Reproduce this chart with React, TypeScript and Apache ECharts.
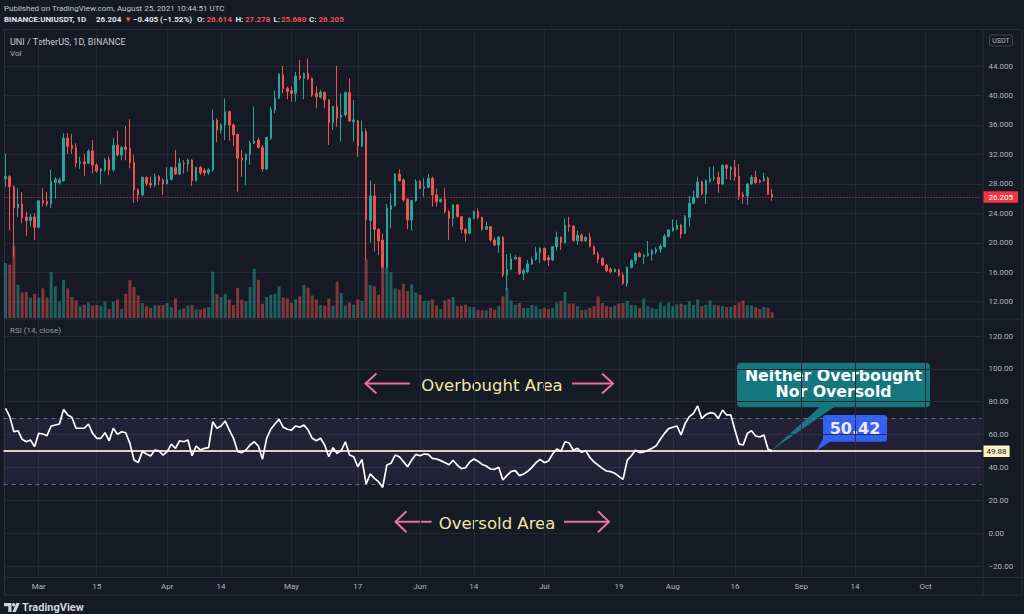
import React, { useEffect, useRef } from "react";
import * as echarts from "echarts";

// ---------- categories (one per day) ----------
const firstDayUTC = Date.UTC(2021, 1, 21);
const dayCount = 236;
const categories: string[] = Array.from({ length: dayCount }, (_, i) =>
  new Date(firstDayUTC + i * 86400000).toISOString().slice(0, 10)
);

// ---------- time axis ticks ----------
const xTickDates = [
  "2021-03-01", "2021-03-15", "2021-04-01", "2021-04-14", "2021-05-01",
  "2021-05-17", "2021-06-01", "2021-06-14", "2021-07-01", "2021-07-19",
  "2021-08-01", "2021-08-16", "2021-09-01", "2021-09-14", "2021-10-01",
];
const xTickLabels = ["Mar", "15", "Apr", "14", "May", "17", "Jun", "14", "Jul", "19", "Aug", "16", "Sep", "14", "Oct"];

// ---------- price candles: [open, high, low, close] ----------
const candles: number[][] = [
  [28.7, 32.1, 27.6, 29.0], [29.0, 29.2, 21.7, 27.6], [27.6, 27.8, 18.1, 24.76], [24.76, 27.4, 23.5, 25.26],
  [25.26, 26.9, 22.64, 23.36], [23.5, 24.2, 20.9, 23.0], [23.0, 23.9, 22.2, 23.5], [23.5, 24.0, 20.4, 22.1],
  [22.1, 25.8, 21.96, 25.7], [25.7, 27.4, 24.9, 25.45], [25.6, 26.9, 24.9, 25.26], [25.26, 29.9, 24.7, 28.3],
  [28.2, 28.9, 26.0, 28.6], [28.16, 28.8, 27.9, 28.52], [28.4, 34.85, 28.3, 34.2], [34.2, 34.9, 32.05, 33.1],
  [33.2, 34.8, 32.05, 32.8], [32.9, 33.5, 30.24, 30.8], [30.8, 31.7, 30.0, 31.0], [31.0, 32.1, 29.1, 30.7],
  [30.8, 32.7, 30.7, 32.46], [32.5, 33.95, 29.4, 30.56], [30.56, 30.8, 29.5, 29.74], [29.74, 30.1, 28.0, 30.0],
  [29.9, 31.5, 29.65, 31.2], [31.3, 31.7, 29.2, 29.9], [29.9, 34.2, 29.65, 33.27], [33.27, 35.2, 31.7, 31.9],
  [31.9, 33.1, 31.2, 32.95], [33.0, 35.85, 31.2, 32.68], [32.8, 36.75, 30.1, 30.87], [30.9, 31.9, 25.4, 27.16],
  [27.2, 27.4, 25.6, 26.48], [26.5, 29.0, 26.35, 28.88], [28.88, 29.0, 27.7, 28.07], [28.07, 29.0, 27.4, 27.84],
  [27.84, 29.4, 27.6, 28.97], [28.97, 29.2, 27.84, 28.43], [28.5, 28.75, 26.5, 27.98], [27.98, 30.24, 27.98, 28.6],
  [28.6, 30.3, 28.43, 30.24], [30.2, 32.6, 29.2, 29.33], [29.33, 31.46, 29.2, 30.78], [30.78, 31.2, 29.4, 30.7],
  [30.7, 31.46, 29.65, 31.24], [31.24, 31.3, 27.7, 28.43], [28.43, 30.3, 28.3, 30.24], [30.24, 30.4, 29.2, 29.5],
  [29.8, 30.1, 29.1, 29.5], [29.5, 30.1, 29.2, 29.9], [29.9, 38.1, 29.65, 36.66], [36.66, 36.9, 33.7, 35.3],
  [35.3, 36.2, 34.8, 35.99], [36.0, 39.6, 33.95, 37.8], [37.8, 37.93, 33.86, 35.99], [36.0, 36.2, 33.1, 34.63],
  [34.7, 34.85, 26.94, 31.46], [31.5, 32.6, 28.97, 31.24], [31.24, 32.14, 27.84, 32.0], [32.0, 33.8, 30.6, 33.5],
  [33.5, 38.48, 33.4, 33.81], [33.95, 34.3, 32.8, 32.95], [32.95, 33.27, 29.65, 30.01], [30.01, 34.4, 29.88, 34.31],
  [34.18, 38.48, 33.95, 38.11], [38.02, 40.65, 37.57, 39.61], [39.61, 43.0, 39.47, 42.9], [42.8, 44.0, 40.29, 40.96],
  [40.96, 41.2, 39.47, 40.51], [40.65, 41.2, 39.15, 40.29], [40.29, 43.2, 39.15, 42.64], [42.64, 44.81, 42.1, 42.32],
  [42.32, 43.1, 39.47, 43.0], [43.0, 45.0, 42.1, 42.32], [42.32, 42.4, 39.83, 40.06], [40.29, 41.2, 38.25, 39.83],
  [39.74, 40.74, 39.61, 40.42], [40.42, 40.51, 38.25, 39.38], [39.38, 39.47, 33.27, 36.3], [36.3, 38.56, 35.31, 38.48],
  [38.48, 44.0, 35.76, 36.89], [37.03, 40.29, 33.72, 37.34], [37.34, 40.51, 37.12, 40.38], [40.38, 42.32, 36.44, 36.53],
  [36.44, 39.38, 33.72, 36.66], [36.53, 36.66, 31.69, 33.14], [33.14, 36.57, 32.95, 35.08], [35.08, 35.53, 17.66, 23.09],
  [23.0, 28.43, 20.01, 26.35], [26.35, 27.98, 18.79, 21.82], [21.82, 21.96, 18.34, 20.28], [20.37, 21.28, 16.53, 16.66],
  [16.66, 25.26, 16.53, 24.67], [24.54, 26.71, 21.96, 25.04], [25.04, 29.42, 24.9, 29.33], [29.33, 29.97, 28.29, 28.43],
  [28.52, 28.75, 25.58, 25.81], [25.9, 26.03, 21.82, 23.09], [23.09, 25.81, 21.64, 25.71], [25.71, 28.61, 25.58, 28.29],
  [28.29, 28.52, 27.25, 27.39], [27.39, 28.75, 26.26, 27.61], [27.52, 29.33, 27.39, 28.75], [28.75, 28.97, 24.9, 26.48],
  [26.48, 27.39, 24.9, 25.58], [25.58, 26.03, 25.44, 25.9], [25.9, 27.39, 23.99, 24.22], [24.22, 24.45, 20.37, 23.32],
  [23.32, 25.26, 22.19, 25.13], [25.13, 25.26, 23.45, 23.54], [23.54, 23.63, 21.28, 21.82], [21.82, 21.96, 20.15, 21.28],
  [21.28, 23.45, 21.14, 23.32], [23.32, 24.36, 23.18, 24.22], [24.22, 24.67, 23.18, 23.45], [23.45, 23.54, 21.64, 21.82],
  [21.82, 22.86, 21.73, 22.19], [22.19, 22.27, 20.15, 20.37], [20.37, 20.74, 19.56, 19.7], [19.7, 20.92, 18.65, 20.74],
  [20.74, 20.9, 15.3, 15.62], [15.62, 18.47, 13.59, 16.39], [16.39, 18.56, 16.3, 17.8], [17.8, 18.34, 17.66, 18.02],
  [18.02, 18.11, 15.62, 15.85], [15.85, 16.53, 14.95, 16.21], [16.08, 17.66, 15.85, 17.12], [17.12, 18.11, 16.98, 17.75],
  [17.75, 19.47, 17.57, 18.65], [18.65, 19.38, 17.21, 19.24], [19.24, 19.38, 17.52, 17.66], [18.0, 18.34, 16.85, 17.66],
  [17.66, 19.56, 17.5, 19.47], [19.47, 21.51, 18.93, 20.74], [20.74, 20.83, 19.02, 20.01], [20.01, 23.32, 19.92, 22.41],
  [22.41, 23.54, 21.51, 22.19], [22.27, 22.36, 20.15, 20.28], [20.28, 21.64, 19.7, 21.01], [21.01, 21.28, 20.15, 20.28],
  [20.28, 20.83, 20.15, 20.74], [20.74, 21.37, 19.38, 19.47], [19.47, 19.65, 18.34, 18.47], [18.47, 18.79, 17.21, 17.75],
  [17.88, 18.02, 16.85, 16.98], [16.98, 17.12, 16.08, 16.21], [16.39, 16.66, 15.85, 16.08], [16.08, 16.53, 16.0, 16.39],
  [16.3, 16.44, 15.4, 15.62], [15.62, 15.94, 14.27, 14.49], [14.49, 16.75, 14.04, 16.66], [16.66, 17.75, 16.53, 17.57],
  [17.57, 18.65, 17.12, 18.56], [18.56, 18.79, 18.02, 18.11], [18.11, 18.47, 17.12, 18.34], [18.29, 20.24, 18.11, 18.56],
  [18.47, 19.11, 17.57, 18.93], [18.75, 19.38, 18.47, 19.11], [19.11, 19.83, 18.65, 19.56], [19.47, 21.19, 19.38, 20.92],
  [20.83, 21.82, 20.74, 21.73], [21.64, 23.18, 21.51, 22.05], [21.82, 23.09, 21.73, 22.37], [22.37, 22.55, 20.6, 21.19],
  [21.28, 23.77, 21.19, 23.54], [23.45, 26.35, 22.19, 25.35], [25.35, 27.07, 25.26, 26.17], [26.17, 28.97, 26.03, 28.25],
  [28.25, 28.43, 26.48, 26.62], [26.62, 28.61, 25.26, 28.43], [28.29, 30.24, 28.16, 28.75], [28.75, 30.42, 28.43, 28.88],
  [28.88, 29.65, 26.8, 27.98], [27.98, 30.65, 27.84, 30.51], [30.51, 30.69, 28.61, 30.1], [29.97, 30.42, 28.52, 30.24],
  [30.24, 31.24, 28.43, 28.97], [29.06, 30.69, 25.81, 26.35], [26.53, 26.94, 25.26, 26.26], [26.35, 28.07, 25.13, 27.98],
  [27.98, 29.2, 27.84, 28.88], [28.88, 29.79, 27.98, 28.16], [28.43, 28.61, 28.07, 28.25], [28.43, 29.51, 28.29, 28.75],
  [28.75, 28.97, 26.48, 26.57], [26.614, 27.278, 25.68, 26.205],
];

// ---------- volume (millions) ----------
const volumes: number[] = [
  19.1, 18.5, 25.1, 11.5, 8.9, 9.1, 7.1, 8.4, 7.1, 10.3, 7.1, 15.9, 11.0, 5.8, 13.3, 10.3, 7.3, 6.1, 4.1, 4.6,
  5.4, 4.3, 4.5, 4.1, 5.7, 3.1, 5.7, 6.4, 3.1, 8.4, 13.1, 10.8, 7.8, 5.2, 4.1, 3.5, 4.4, 4.3, 4.5, 5.2,
  3.8, 6.8, 2.9, 3.4, 4.3, 4.5, 2.9, 2.9, 3.4, 3.8, 16.1, 8.3, 7.3, 8.4, 6.4, 4.5, 10.4, 6.4, 5.9, 10.8,
  17.1, 13.3, 5.0, 7.3, 8.1, 8.4, 11.0, 7.1, 6.8, 5.2, 6.6, 7.5, 11.5, 10.5, 7.8, 6.4, 4.6, 4.3, 6.8, 4.3,
  12.6, 8.7, 4.3, 5.4, 4.6, 6.4, 5.9, 20.3, 11.5, 11.0, 8.1, 17.5, 17.4, 15.9, 10.3, 9.8, 11.9, 9.4, 11.7, 8.9,
  8.1, 5.9, 5.9, 6.4, 4.3, 3.1, 6.1, 6.6, 7.3, 4.1, 4.3, 4.6, 3.8, 3.8, 2.9, 2.7, 2.7, 3.5, 2.9, 4.1,
  7.5, 10.3, 6.1, 4.6, 5.2, 3.5, 3.5, 4.5, 4.1, 3.1, 3.5, 3.1, 3.4, 5.4, 5.9, 9.1, 5.0, 5.0, 4.1, 2.7,
  2.9, 3.5, 4.1, 7.5, 5.2, 4.1, 3.8, 4.3, 5.0, 5.2, 5.9, 4.6, 4.3, 3.5, 6.8, 4.1, 3.5, 3.1, 5.4, 4.1,
  5.4, 4.1, 4.7, 5.0, 4.6, 5.8, 4.6, 6.4, 4.1, 4.6, 6.1, 4.5, 4.3, 4.1, 3.8, 3.8, 4.5, 5.4, 6.1, 4.5,
  4.3, 3.8, 3.1, 3.8, 3.5, 2.0,
];

// ---------- RSI (14, close) ----------
const rsiValues: number[] = [
  75.9, 70.9, 61.7, 62.3, 57.1, 55.6, 56.7, 52.6, 60.7, 60.3, 59.3, 65.2, 65.8, 66.4, 75.3, 71.9, 70.5, 63.8, 63.8, 63.8,
  66.4, 60.7, 57.7, 57.7, 61.1, 56.2, 63.8, 60.1, 61.7, 61.1, 54.6, 44.5, 42.9, 49.6, 48.1, 46.9, 50.6, 50.0, 47.5, 49.6,
  54.2, 51.6, 56.2, 55.6, 56.7, 47.1, 53.0, 50.6, 51.6, 52.0, 67.8, 63.8, 65.2, 68.2, 62.7, 57.7, 49.6, 49.0, 50.6, 53.6,
  55.6, 53.0, 45.0, 57.7, 63.2, 66.4, 69.2, 64.4, 63.2, 62.7, 65.2, 64.4, 65.8, 62.7, 57.7, 56.2, 57.7, 53.6, 46.5, 52.0,
  48.5, 50.2, 55.6, 47.5, 46.5, 40.4, 44.9, 29.9, 36.0, 33.3, 31.3, 27.8, 41.4, 42.5, 47.5, 46.5, 43.5, 40.4, 44.5, 47.9,
  47.1, 48.1, 47.9, 45.5, 45.1, 44.1, 42.9, 41.6, 44.3, 41.4, 39.2, 39.8, 43.3, 45.1, 43.7, 41.8, 40.8, 39.0, 38.8, 40.0,
  32.3, 35.1, 37.6, 38.0, 35.0, 36.0, 37.6, 40.0, 42.9, 44.9, 42.9, 43.9, 48.1, 51.2, 49.8, 55.6, 54.8, 50.4, 51.6, 49.2,
  50.2, 45.9, 43.3, 41.4, 39.4, 37.8, 37.4, 36.4, 34.5, 32.7, 44.3, 47.1, 50.4, 49.0, 49.4, 50.4, 51.6, 53.2, 57.1, 60.7,
  63.6, 64.4, 65.2, 59.7, 66.8, 70.9, 72.9, 77.4, 69.8, 72.1, 73.3, 72.9, 69.8, 74.9, 71.9, 71.9, 62.7, 54.2, 53.6, 60.7,
  62.3, 59.1, 58.5, 59.7, 51.0, 49.88,
];

// ---------- reference levels / labels ----------
const lastClose = 26.205;
const rsiLast = 49.88;
const rsiCallout = "50.42";
const rsiUpper = 70;
const rsiLower = 30;
const priceTickMin = 12;
const priceTickMax = 44;
const priceTickStep = 4;
const rsiTickMin = -20;
const rsiTickMax = 120;
const rsiTickStep = 20;

// ---------- style ----------
const BG = "#161a25";
const GRID = "#242835";
const FRAME = "#2a2e39";
const TXT = "#b2b5be";
const UP = "#26a69a";
const DOWN = "#ef5350";
const FONT = "Roboto, 'Noto Sans', sans-serif";

export default function App() {
  const ref = useRef<HTMLDivElement>(null);

  useEffect(() => {
    document.body.style.margin = "0";
    const chart = echarts.init(ref.current!, null, { renderer: "svg" });

    const tickSet = new Set(xTickDates);
    const tickLabelMap: Record<string, string> = {};
    xTickDates.forEach((d, i) => (tickLabelMap[d] = xTickLabels[i]));

    const gridL = 3.5;
    const gridR = 42.5;

    const vLines = xTickDates.map((d) => ({
      xAxis: d,
      lineStyle: { color: GRID, width: 1, type: "solid" as const },
      label: { show: false },
    }));

    const candleData = candles.map((c) => [c[0], c[3], c[2], c[1]]);
    const volData = volumes.map((v, i) => ({
      value: v,
      itemStyle: {
        color: candles[i][3] >= candles[i][0] ? "rgba(38,166,154,0.5)" : "rgba(239,83,80,0.5)",
      },
    }));

    const catAxis = (gridIndex: number, extra: any = {}) => ({
      type: "category",
      gridIndex,
      data: categories,
      boundaryGap: true,
      axisLine: { show: false },
      axisTick: { show: false },
      axisLabel: { show: false },
      splitLine: { show: false },
      ...extra,
    });

    const txt = (x: number, y: number, text: string, fill: string, font: string, align = "left", scaleX = 1) => ({
      type: "text",
      x,
      y,
      scaleX,
      silent: true,
      style: {
        text,
        fill,
        font,
        align,
        textAlign: align,
        verticalAlign: "middle",
        textVerticalAlign: "middle",
      },
    });

    const arrowColor = "#e5739b";
    const arrowStyle = { stroke: arrowColor, lineWidth: 2, fill: "none" };
    const line = (x1: number, y1: number, x2: number, y2: number, stroke = FRAME) => ({
      type: "line",
      silent: true,
      shape: { x1, y1, x2, y2 },
      style: { stroke, lineWidth: 1 },
    });
    const poly = (points: number[][]) => ({
      type: "polyline",
      silent: true,
      shape: { points },
      style: arrowStyle,
    });

    const teal = "#15767d";
    const hdrBold = `bold 8px ${FONT}`;
    const annFont = `16.5px 'DejaVu Sans'`;
    const calloutFont = `bold 15px 'DejaVu Sans'`;

    const option: any = {
      animation: false,
      backgroundColor: BG,
      grid: [
        { left: gridL, right: gridR, top: 30, height: 288 },
        { left: gridL, right: gridR, top: 66, height: 235.7 },
        { left: gridL, right: gridR, top: 320, height: 257 },
        { left: gridL, right: gridR, top: 336, height: 230 },
      ],
      xAxis: [
        catAxis(0),
        catAxis(1),
        catAxis(2, {
          axisLabel: {
            show: true,
            interval: (_i: number, v: string) => tickSet.has(v),
            formatter: (v: string) => tickLabelMap[v] || "",
            color: TXT,
            fontSize: 8,
            fontFamily: FONT,
            margin: 5,
          },
        }),
        catAxis(3),
      ],
      yAxis: [
        { type: "value", gridIndex: 0, min: 9.787, max: 48.88, show: false, splitLine: { show: false } },
        { type: "value", gridIndex: 0, min: 0, max: 100, show: false, splitLine: { show: false } },
        {
          type: "value",
          gridIndex: 1,
          position: "right",
          min: priceTickMin,
          max: priceTickMax,
          interval: priceTickStep,
          axisLine: { show: false },
          axisTick: { show: false },
          axisLabel: { color: TXT, fontSize: 8, fontFamily: FONT, margin: 7, formatter: (v: number) => v.toFixed(3) },
          splitLine: { show: true, lineStyle: { color: GRID, width: 1 } },
        },
        { type: "value", gridIndex: 2, min: -26.72, max: 129.7, show: false, splitLine: { show: false } },
        {
          type: "value",
          gridIndex: 3,
          position: "right",
          min: rsiTickMin,
          max: rsiTickMax,
          interval: rsiTickStep,
          axisLine: { show: false },
          axisTick: { show: false },
          axisLabel: {
            color: TXT,
            fontSize: 8,
            fontFamily: FONT,
            margin: 7,
            formatter: (v: number) => v.toFixed(2).replace("-", "\u2212"),
          },
          splitLine: { show: true, lineStyle: { color: GRID, width: 1 } },
        },
      ],
      series: [
        {
          type: "bar",
          xAxisIndex: 0,
          yAxisIndex: 1,
          data: volData,
          barWidth: 3,
          z: 1,
          silent: true,
        },
        {
          type: "candlestick",
          xAxisIndex: 0,
          yAxisIndex: 0,
          data: candleData,
          barWidth: 2,
          z: 3,
          silent: true,
          itemStyle: { color: UP, color0: DOWN, borderColor: UP, borderColor0: DOWN, borderWidth: 1 },
          markLine: {
            silent: true,
            z: 0,
            symbol: ["none", "none"],
            data: [
              ...vLines,
              {
                yAxis: lastClose,
                lineStyle: { color: "#d0474e", width: 1, type: [1, 2] },
                label: {
                  show: true,
                  position: "end",
                  distance: 2,
                  formatter: () => lastClose.toFixed(3),
                  backgroundColor: "#f23645",
                  color: "#ffffff",
                  fontSize: 8,
                  fontFamily: FONT,
                  padding: [2, 5, 1.5, 5],
                },
              },
            ],
          },
        },
        {
          type: "line",
          xAxisIndex: 2,
          yAxisIndex: 3,
          data: rsiValues,
          symbol: "none",
          z: 4,
          silent: true,
          lineStyle: { color: "#ffffff", width: 1.7 },
          markArea: {
            silent: true,
            itemStyle: { color: "rgba(126,87,194,0.12)" },
            data: [[{ yAxis: rsiLower }, { yAxis: rsiUpper }]],
          },
          markLine: {
            silent: true,
            z: 0,
            symbol: ["none", "none"],
            data: [
              ...vLines,
              { yAxis: rsiUpper, lineStyle: { color: "#6d707a", width: 1, type: [4, 4] }, label: { show: false } },
              { yAxis: rsiLower, lineStyle: { color: "#6d707a", width: 1, type: [4, 4] }, label: { show: false } },
              {
                yAxis: rsiLast,
                lineStyle: { color: "#efe6b4", width: 2.2, type: "solid" },
                label: {
                  show: true,
                  position: "end",
                  distance: 2,
                  formatter: () => rsiLast.toFixed(2),
                  backgroundColor: "#fbf3c4",
                  color: "#131722",
                  fontSize: 8,
                  fontFamily: FONT,
                  padding: [2, 3, 1.5, 3],
                },
              },
            ],
          },
        },
      ],
      graphic: [
        // frame
        {
          type: "rect",
          silent: true,
          shape: { x: 4.5, y: 29.5, width: 1017.5, height: 565.5 },
          style: { fill: "none", stroke: FRAME, lineWidth: 1 },
        },
        line(983, 29.5, 983, 595),
        line(4.5, 319, 1022, 319),
        line(4.5, 577.5, 1022, 577.5),
        // header
        txt(4, 8, "Published on TradingView.com, August 25, 2021 10:44:51 UTC", "#c3c6ce", `8px ${FONT}`),
        txt(4, 19.3, "BINANCE:UNIUSDT, 1D", "#e0e3eb", hdrBold),
        txt(96, 19.3, "26.204", "#e0e3eb", hdrBold),
        txt(124, 19.3, "\u25BC", DOWN, `8px ${FONT}`),
        txt(133, 19.3, "\u22120.405 (\u22121.52%)", "#e0e3eb", hdrBold),
        txt(197, 19.3, "O:", "#e0e3eb", hdrBold),
        txt(206.5, 19.3, "26.614", DOWN, hdrBold),
        txt(235.5, 19.3, "H:", "#e0e3eb", hdrBold),
        txt(245, 19.3, "27.278", DOWN, hdrBold),
        txt(273.5, 19.3, "L:", "#e0e3eb", hdrBold),
        txt(281, 19.3, "25.680", DOWN, hdrBold),
        txt(309, 19.3, "C:", "#e0e3eb", hdrBold),
        txt(318.5, 19.3, "26.205", DOWN, hdrBold),
        txt(10, 41.7, "UNI / TetherUS, 1D, BINANCE", "#c9ccd4", `9px ${FONT}`),
        txt(10, 53, "Vol", TXT, `8px ${FONT}`),
        txt(10, 330, "RSI (14, close)", "#9598a1", `8px ${FONT}`),
        // USDT box
        {
          type: "rect",
          silent: true,
          shape: { x: 989.5, y: 35, width: 23, height: 11, r: 2 },
          style: { fill: "none", stroke: "#434651", lineWidth: 1 },
        },
        txt(1001, 40.7, "USDT", TXT, `7px ${FONT}`, "center"),
        // overbought annotation
        poly([[410, 383.5], [365.5, 383.5]]),
        poly([[376.5, 373.5], [365.5, 383.5], [376.5, 393.5]]),
        poly([[572, 383.5], [613, 383.5]]),
        poly([[602, 373.5], [613, 383.5], [602, 393.5]]),
        txt(492, 385.5, "Overbought Area", "#f0e6a8", annFont, "center"),
        // oversold annotation
        poly([[431.5, 521.7], [395.5, 521.7]]),
        poly([[406.5, 511.2], [395.5, 521.7], [406.5, 532.2]]),
        poly([[564, 521.7], [609, 521.7]]),
        poly([[598, 511.2], [609, 521.7], [598, 532.2]]),
        txt(497, 523.3, "Oversold Area", "#f0e6a8", annFont, "center"),
        // teal callout
        {
          type: "polygon",
          silent: true,
          shape: { points: [[822, 405], [837, 405], [770.7, 451]] },
          style: { fill: teal },
        },
        {
          type: "rect",
          silent: true,
          shape: { x: 737, y: 362.7, width: 193, height: 44.6, r: 4 },
          style: { fill: teal },
        },
        txt(833.5, 375.8, "Neither Overbought", "#ffffff", calloutFont, "center", 1.05),
        txt(833.5, 392.6, "Nor Oversold", "#ffffff", calloutFont, "center", 1.05),
        { type: "circle", silent: true, shape: { cx: 770.7, cy: 451, r: 1.6 }, style: { fill: teal } },
        // blue callout
        {
          type: "polygon",
          silent: true,
          shape: { points: [[823, 439], [834, 439], [816, 451]] },
          style: { fill: "#2962ff" },
        },
        {
          type: "rect",
          silent: true,
          shape: { x: 823, y: 415, width: 64, height: 26.7, r: 3 },
          style: { fill: "#2962ff" },
        },
        txt(855, 428.6, rsiCallout, "#ffffff", `bold 16px 'DejaVu Sans'`, "center"),
        { type: "circle", silent: true, shape: { cx: 816, cy: 451, r: 1.6 }, style: { fill: "#2962ff" } },
        // TradingView logo
        {
          type: "polygon",
          silent: true,
          shape: { points: [[4, 603], [11.5, 603], [11.5, 612], [8.3, 612], [8.3, 606.2], [4, 606.2]] },
          style: { fill: "#d1d4dc" },
        },
        { type: "circle", silent: true, shape: { cx: 13.6, cy: 604.7, r: 1.7 }, style: { fill: "#d1d4dc" } },
        {
          type: "polygon",
          silent: true,
          shape: { points: [[16.3, 603], [19.8, 603], [15.8, 612], [12.3, 612]] },
          style: { fill: "#d1d4dc" },
        },
        txt(22, 607.8, "TradingView", "#d1d4dc", `bold 11px ${FONT}`),
      ],
    };

    chart.setOption(option);
    return () => chart.dispose();
  }, []);

  return (
    <div
      ref={ref}
      style={{ position: "absolute", left: 0, top: 0, width: 1024, height: 614 }}
    />
  );
}
